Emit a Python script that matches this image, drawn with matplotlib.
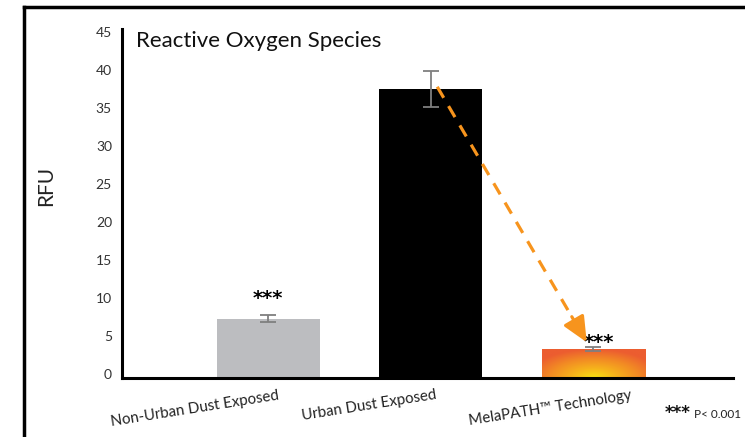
import numpy as np
import matplotlib
matplotlib.use("Agg")
import matplotlib.pyplot as plt
from matplotlib.colors import LinearSegmentedColormap
from matplotlib.lines import Line2D
from matplotlib import transforms

# data
categories = ["Non-Urban Dust Exposed", "Urban Dust Exposed", "MelaPATH\u2122 Technology"]
rfu = [7.8, 38.0, 3.8]
rfu_err = [0.45, 2.4, 0.25]
stars = ["***", "", "***"]
y_ticks = [0, 5, 10, 15, 20, 25, 30, 35, 40, 45]

plt.rcParams['font.family'] = ['Lato', 'DejaVu Sans']

fig = plt.figure(figsize=(7.45, 4.37), dpi=100)
W, H = 745, 437
ax = fig.add_axes([122 / W, (H - 378) / H, 611 / W, 349 / H])

x = np.arange(len(categories))
bar_colors = ["#bcbdc0", "#000000", "none"]
bars = ax.bar(x, rfu, width=0.635, color=bar_colors, zorder=2)

# radial gradient for the last bar
cmap = LinearSegmentedColormap.from_list("mela", ["#f7e012", "#f6b21c", "#f28a24", "#ec5d30"])
b = bars[2]
bx0, bw, bh = b.get_x(), b.get_width(), b.get_height()
gx, gy = np.meshgrid(np.linspace(-1, 1, 200), np.linspace(0, 1, 60))
dist = np.sqrt(gx ** 2 + (gy * 1.3) ** 2)
img = ax.imshow(dist, cmap=cmap, origin="lower", aspect="auto",
                extent=[bx0, bx0 + bw, 0, bh], vmin=0, vmax=1.3, zorder=2)
img.set_clip_path(b)

ax.errorbar(x, rfu, yerr=rfu_err, fmt="none", ecolor="#7f7f7f",
            elinewidth=1.3, capsize=6, capthick=1.3, zorder=3)

# significance stars
star_dx = [0, 0, 4]
star_dy = [5, 0, -3.5]
for i, s in enumerate(stars):
    if s:
        tr = ax.transData + transforms.ScaledTranslation(star_dx[i] / 72, star_dy[i] / 72, fig.dpi_scale_trans)
        ax.text(x[i], rfu[i] + rfu_err[i], s, ha="center", va="bottom",
                fontsize=14, fontweight="bold", transform=tr, zorder=4,
                family="DejaVu Sans")

# dashed orange arrow from urban bar to MelaPATH bar
start = (1.04, 38.3)
tip = (1.96, 4.7)
mid = (start[0] + (tip[0] - start[0]) * 0.9, start[1] + (tip[1] - start[1]) * 0.9)
ax.plot([start[0], mid[0]], [start[1], mid[1]], color="#f7941d", lw=2.3,
        ls=(0, (4, 3)), zorder=4, solid_capstyle="butt", dash_capstyle="butt")
ax.annotate("", xy=tip, xytext=mid,
            arrowprops=dict(arrowstyle="-|>,head_length=0.7,head_width=0.32",
                            color="#f7941d", lw=2.3, mutation_scale=22,
                            shrinkA=0, shrinkB=0), zorder=5)

ax.set_xlim(-0.9, 2.86)
ax.set_ylim(0, 45.9)
ax.set_yticks(y_ticks)
ax.set_yticklabels([])
ax.tick_params(axis="y", length=0)
ax.set_xticks([])

# y tick labels sit a few pixels above their value, as in the reference
ylab_tr = transforms.blended_transform_factory(ax.transAxes, ax.transData) + \
    transforms.ScaledTranslation(-10 / 100, 3 / 100, fig.dpi_scale_trans)
for t in y_ticks:
    ax.text(0, t, str(t), transform=ylab_tr, ha="right", va="center",
            fontsize=10, color="#333333")

for side in ["top", "right"]:
    ax.spines[side].set_visible(False)
ax.spines["left"].set_linewidth(2.2)
ax.spines["bottom"].set_linewidth(2.2)

# rotated category labels
label_dx = [0.07, 0.04, 0.24]
for i, c in enumerate(categories):
    tr = transforms.blended_transform_factory(ax.transData, ax.transAxes)
    ax.text(x[i] + label_dx[i], -21 / 349, c, transform=tr, ha="right", va="baseline",
            rotation=9, rotation_mode="anchor", fontsize=10.8, color="#222222")

ax.set_ylabel("RFU", fontsize=15, color="#222222", labelpad=0)
ax.yaxis.set_label_coords(-66 / 611, 0.55)

ax.text(14 / 611, 0.995, "Reactive Oxygen Species", transform=ax.transAxes,
        ha="left", va="top", fontsize=16, color="#111111")

fig.text(694 / W, 1 - 418 / H, "P< 0.001", ha="left", va="baseline",
         fontsize=8.5, color="#222222")
fig.text(691 / W, 1 - 418 / H, "***", ha="right", va="baseline",
         fontsize=12, fontweight="bold", family="DejaVu Sans", color="#111111")

# outer frame
fig.add_artist(Line2D([24 / W, 24 / W], [0, 1 - 7 / H], color="black", lw=2.5))
fig.add_artist(Line2D([24 / W, 1], [1 - 7 / H, 1 - 7 / H], color="black", lw=2.5))

fig.savefig("out.png", dpi=100)
